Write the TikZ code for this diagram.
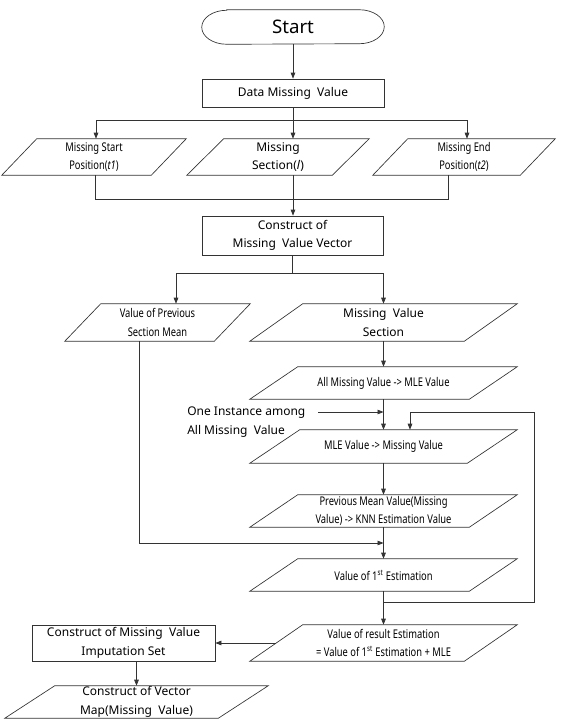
\documentclass[tikz,border=0pt]{standalone}
\usepackage{fontspec}
\setmainfont{Noto Sans}
\newfontfamily\condf[FakeStretch=0.78]{Noto Sans}
\usetikzlibrary{arrows.meta,calc}
\tikzset{
  sz/.style 2 args={minimum width=#1*0.75pt, minimum height=#2*0.75pt},
  base/.style={inner sep=0pt, align=center, font=\fontsize{9}{14}\selectfont, text=black},
  cbase/.style={base, font=\condf\fontsize{9}{14}\selectfont},
  boxn/.style={base, draw=black!80, line width=0.5pt, rectangle},
  ion/.style={base, rectangle, draw=none},
  cion/.style={cbase, rectangle, draw=none},
  arr/.style={draw=black!80, line width=0.5pt, -{Triangle[length=4.5pt,width=3.4pt]}},
  ln/.style={draw=black!80, line width=0.5pt},
}
\begin{document}
\begin{tikzpicture}[x=0.75pt,y=-0.75pt]
\useasboundingbox (0,0) rectangle (576,721);
% nodes
\node[ion, sz={182}{34}, font=\fontsize{14}{16}\selectfont] (start) at (293,27) {Start};
\draw[ln] ([xshift=18.75pt]start.north west) -- ([xshift=-18.75pt]start.north east)
  arc[start angle=90, end angle=-90, x radius=18.75pt, y radius=12.75pt]
  -- ([xshift=18.75pt]start.south west)
  arc[start angle=270, end angle=90, x radius=18.75pt, y radius=12.75pt] -- cycle;
\node[boxn, sz={182}{28}] (dmv) at (293,93) {Data Missing\ \ Value};
\node[cion, sz={184}{36}] (p1) at (94,157) {Missing Start\\Position(\textit{t1})};
\node[ion, sz={182}{36}] (p2) at (278,157) {Missing\\Section(\textit{l})};
\node[cion, sz={182}{36}] (p3) at (464,157) {Missing End\\Position(\textit{t2})};
\node[boxn, sz={181}{39}] (cmv) at (292.5,235.5) {Construct of\\Missing\ \ Value Vector};
\node[cion, sz={185}{37}] (vps) at (157.5,322.5) {Value of Previous\\Section Mean};
\node[ion, sz={267}{37}] (mvs) at (383.5,322.5) {Missing\ \ Value\\Section};
\node[cion, sz={267}{32}] (all) at (383.5,383) {All Missing Value -> MLE Value};
\node[ion, anchor=west] (inst) at (187,422) [align=left] {One Instance among\\All Missing\ \ Value};
\node[cion, sz={267}{33}] (mle) at (383.5,446.5) {MLE Value -> Missing Value};
\node[cion, sz={267}{32}] (pmv) at (383.5,511) {Previous Mean Value(Missing\\Value) -> KNN Estimation Value};
\node[cion, sz={267}{32}] (est) at (383.5,575) {Value of 1\textsuperscript{st} Estimation};
\node[cion, sz={267}{36}] (res) at (383.5,643) {Value of result Estimation\\= Value of 1\textsuperscript{st} Estimation + MLE};
\node[boxn, sz={183}{36}] (imp) at (123.5,643) {Construct of Missing\ \ Value\\Imputation Set};
\node[ion, sz={263}{32}] (vm) at (136.5,702) {Construct of Vector\\Map(Missing\ \ Value)};
% parallelogram outlines
\foreach \n/\s in {p1/35,p2/37,p3/35,vps/36,mvs/53,all/48,mle/50,pmv/48,est/48,res/53,vm/50}{
  \draw[ln] ([xshift=\s*0.75pt]\n.north west) -- (\n.north east)
    -- ([xshift=-\s*0.75pt]\n.south east) -- (\n.south west) -- cycle;
}
% coordinates
\coordinate (j1) at (293,120);
\coordinate (s1L) at (96,120);
\coordinate (s1R) at (467,120);
\coordinate (m1) at (95,199);
\coordinate (m2) at (293,199);
\coordinate (m3) at (448,199);
\coordinate (j2) at (292.5,273);
\coordinate (s2L) at (176,273);
\coordinate (s2R) at (383.5,273);
\coordinate (k1) at (139,543);
\coordinate (k2) at (383.5,543);
\coordinate (ia) at (318,412);
\coordinate (l1) at (383.5,602);
\coordinate (l2) at (534,602);
\coordinate (l3) at (534,412);
\coordinate (l4) at (410,412);
% connectors
\draw[arr] (start) -- (dmv);
\draw[ln] (dmv.south) -- (j1);
\draw[ln] (s1L) -- (s1R);
\draw[arr] (s1L) -- (s1L |- p1.north);
\draw[arr] (j1) -- (j1 |- p2.north);
\draw[arr] (s1R) -- (s1R |- p3.north);
\draw[ln] (m1 |- p1.south) -- (m1) -- (m3) -- (m3 |- p3.south);
\draw[arr] (m2 |- p2.south) -- (m2 |- cmv.north);
\draw[ln] (cmv.south) -- (j2);
\draw[ln] (s2L) -- (s2R);
\draw[arr] (s2L) -- (s2L |- vps.north);
\draw[arr] (s2R) -- (mvs.north);
\draw[arr] (k1 |- vps.south) -- (k1) -- (k2);
\draw[arr] (mvs) -- (all);
\draw[arr] (all) -- (mle);
\draw[arr] (ia) -- (ia -| all.south);
\draw[arr] (mle) -- (pmv);
\draw[arr] (pmv) -- (est);
\draw[arr] (est) -- (res);
\draw[arr] (l1) -- (l2) -- (l3) -- (l4) -- (l4 |- mle.north);
\draw[arr] ([xshift=26.5*0.75pt]res.west) -- (imp.east);
\draw[arr] (imp.south -| vm.north) -- (vm.north);
\end{tikzpicture}
\end{document}
